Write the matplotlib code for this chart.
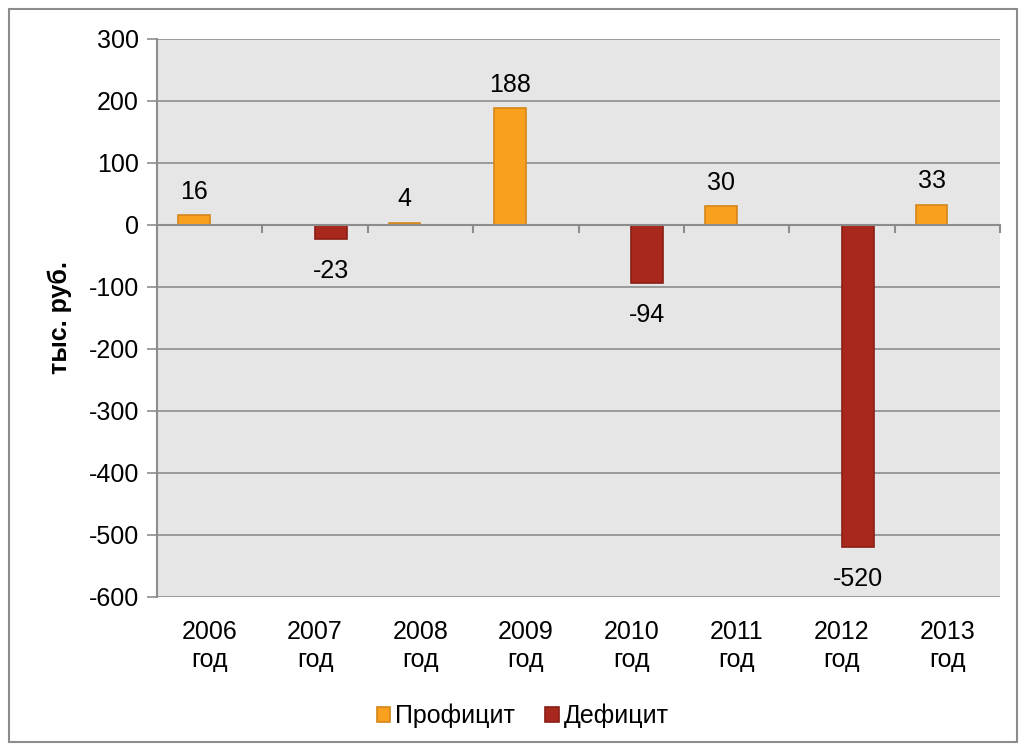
import numpy as np
import matplotlib.pyplot as plt
from matplotlib.patches import Rectangle

# Данные
years = ['2006\nгод', '2007\nгод', '2008\nгод', '2009\nгод',
         '2010\nгод', '2011\nгод', '2012\nгод', '2013\nгод']
profit = [16, 0, 4, 188, 0, 30, 0, 33]
deficit = [0, -23, 0, 0, -94, 0, -520, 0]
y_ticks = [300, 200, 100, 0, -100, -200, -300, -400, -500, -600]

plt.rcParams['font.family'] = ['Liberation Sans', 'DejaVu Sans']
fs = 18

fig = plt.figure(figsize=(10.19, 7.44), dpi=100)
ax = fig.add_axes([157 / 1019, 1 - 597 / 744, (1000 - 157) / 1019, (597 - 39) / 744])

x = np.arange(len(years))
w = 0.3
orange = '#F9A11F'
red = '#A8281E'

ax.set_facecolor('#E6E6E6')
ax.set_axisbelow(True)
ax.grid(axis='y', color='#8C8C8C', linewidth=1.2)

b1 = ax.bar(x - w / 2, profit, w, color=orange, edgecolor='#D4861A', linewidth=1.2, label='Профицит', zorder=3)
b2 = ax.bar(x + w / 2, deficit, w, color=red, edgecolor='#8A1E16', linewidth=1.2, label='Дефицит', zorder=3)

for xi, v in zip(x, profit):
    if v != 0:
        ax.annotate(str(v), (xi - w / 2, v), xytext=(0, 8), textcoords='offset points',
                    ha='center', va='bottom', fontsize=fs)
for xi, v in zip(x, deficit):
    if v != 0:
        ax.annotate(str(v), (xi + w / 2, v), xytext=(0, -14), textcoords='offset points',
                    ha='center', va='top', fontsize=fs)

ax.set_xlim(-0.5, len(years) - 0.5)
ax.set_ylim(-600, 300)
ax.set_yticks(y_ticks)
ax.set_yticklabels([str(t) for t in y_ticks], fontsize=fs)
ax.tick_params(axis='y', length=7, color='#8C8C8C', width=1.2, pad=6)

# подписи категорий снизу, засечки на нулевой линии
ax.set_xticks([])
for i, lab in enumerate(years):
    ax.text(i, -0.042, lab, transform=ax.get_xaxis_transform(), ha='center', va='top',
            fontsize=fs, linespacing=1.2)
ax.axhline(0, color='#8C8C8C', linewidth=1.5, zorder=4)
for b in np.arange(-0.5, len(years) + 0.5, 1.0):
    ax.plot([b, b], [0, -12], color='#8C8C8C', linewidth=1.5, zorder=4, clip_on=False)

for s in ['top', 'right', 'bottom']:
    ax.spines[s].set_visible(False)
ax.spines['left'].set_color('#8C8C8C')
ax.spines['left'].set_linewidth(1.5)

ax.set_ylabel('тыс. руб.', fontsize=fs, fontweight='bold', labelpad=12)

leg = fig.legend(handles=[b1, b2], loc='center', bbox_to_anchor=(0.513, 1 - 716 / 744), ncol=2,
                 frameon=False, fontsize=fs, handlelength=0.55, handleheight=0.55,
                 handletextpad=0.2, columnspacing=1.2)

fig.patches.append(Rectangle((9 / 1019, 2 / 744), 1008 / 1019, 733 / 744, transform=fig.transFigure,
                             fill=False, edgecolor='#8C8C8C', linewidth=1.5))

fig.savefig('out.png', dpi=100)
